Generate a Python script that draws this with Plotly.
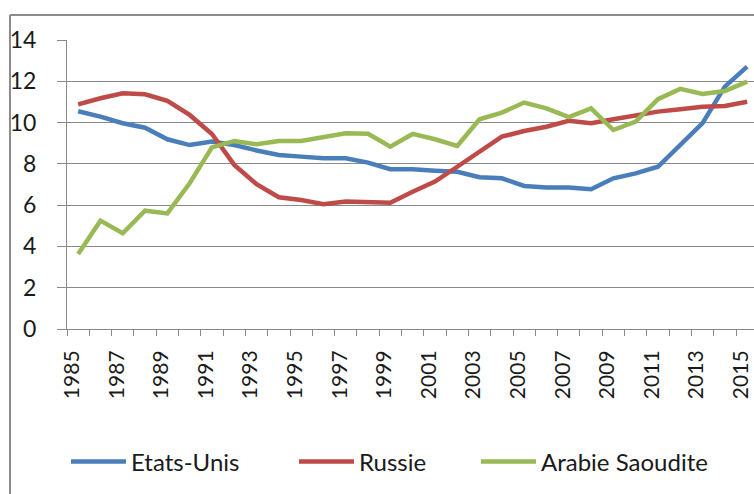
import plotly.graph_objects as go

years = list(range(1985, 2016))
etats_unis = [10.55, 10.29, 9.97, 9.75, 9.19, 8.91, 9.08, 8.91, 8.65, 8.43, 8.35, 8.27, 8.27, 8.06, 7.74,
              7.74, 7.67, 7.62, 7.35, 7.30, 6.93, 6.86, 6.85, 6.77, 7.30, 7.54, 7.86, 8.91, 9.97, 11.74, 12.71]
russie = [10.88, 11.18, 11.42, 11.37, 11.05, 10.37, 9.45, 7.95, 7.02, 6.38, 6.25, 6.04, 6.18, 6.14, 6.12,
          6.65, 7.14, 7.86, 8.59, 9.32, 9.59, 9.80, 10.09, 9.97, 10.16, 10.37, 10.53, 10.64, 10.77, 10.80, 11.01]
arabie = [3.63, 5.25, 4.64, 5.73, 5.60, 7.06, 8.80, 9.11, 8.95, 9.11, 9.11, 9.29, 9.48, 9.46, 8.83,
          9.45, 9.19, 8.87, 10.16, 10.48, 10.97, 10.69, 10.26, 10.69, 9.64, 10.05, 11.13, 11.63, 11.39, 11.53, 11.98]
series_names = ["Etats-Unis", "Russie", "Arabie Saoudite"]
series_values = [etats_unis, russie, arabie]
series_colors = ["#4A7EBB", "#BE4B48", "#98B954"]
year_ticks = list(range(1985, 2016, 2))

W, H = 754, 494
L, T, B = 67, 40, 165
R = 0
PW = W - L - R
PH = H - T - B
step = 22.3
x0 = 1984.5
x1 = x0 + PW / step

def px2paper_x(px):
    return (px - L) / PW

def py2paper_y(py):
    return (H - B - py) / PH

legend_keys = ["legend", "legend2", "legend3"]
legend_px = [66, 294, 476]

fig = go.Figure()
for name, vals, col, lg in zip(series_names, series_values, series_colors, legend_keys):
    fig.add_trace(go.Scatter(x=years, y=vals, name=name, mode="lines", legend=lg,
                             line=dict(color=col, width=4.5), cliponaxis=False))

grid = "#8a8a8a"
font_family = "Lato, 'Open Sans', sans-serif"
legends = {}
for lg, lx in zip(legend_keys, legend_px):
    legends[lg] = dict(orientation="h", x=px2paper_x(lx), xanchor="left",
                       y=py2paper_y(462), yanchor="middle",
                       font=dict(size=24, family=font_family, color="#1a1a1a"),
                       itemwidth=55, bgcolor="rgba(0,0,0,0)")

fig.update_layout(
    width=W, height=H,
    margin=dict(l=L, r=R, t=T, b=B, pad=0, autoexpand=False),
    paper_bgcolor="white", plot_bgcolor="white",
    font=dict(family=font_family, color="#1a1a1a"),
    showlegend=True,
    xaxis=dict(range=[x0, x1], tickmode="array", tickvals=year_ticks,
               ticktext=[str(y) for y in year_ticks], tickangle=-90,
               ticks="", showgrid=False, zeroline=False, automargin=False,
               ticklabeloverflow="allow", ticklabelshift=-6,
               showline=True, linecolor=grid, linewidth=1,
               tickfont=dict(size=21, family=font_family, color="#1a1a1a"),
               ticklabelstandoff=12,
               minor=dict(tickmode="linear", tick0=1984.5, dtick=1, ticks="outside",
                          ticklen=6, tickcolor=grid, tickwidth=1, showgrid=False)),
    yaxis=dict(range=[0, 14], tickmode="linear", tick0=0, dtick=2, automargin=False,
               showgrid=True, gridcolor=grid, gridwidth=1, zeroline=False,
               showline=True, linecolor=grid, linewidth=1,
               ticks="outside", ticklen=9, tickcolor=grid, tickwidth=1,
               tickfont=dict(size=23, family=font_family, color="#1a1a1a"),
               ticklabelstandoff=16),
    shapes=[
        dict(type="line", xref="paper", yref="paper",
             x0=px2paper_x(10), x1=px2paper_x(W + 5), y0=py2paper_y(15), y1=py2paper_y(15),
             line=dict(color="#8c8c8c", width=2)),
        dict(type="line", xref="paper", yref="paper",
             x0=px2paper_x(10), x1=px2paper_x(10), y0=py2paper_y(15), y1=py2paper_y(H + 5),
             line=dict(color="#8c8c8c", width=2)),
    ],
    **legends,
)

fig.write_html("out.html", config={"displayModeBar": False},
               post_script="document.body.style.margin='0';document.body.style.overflow='hidden';")
